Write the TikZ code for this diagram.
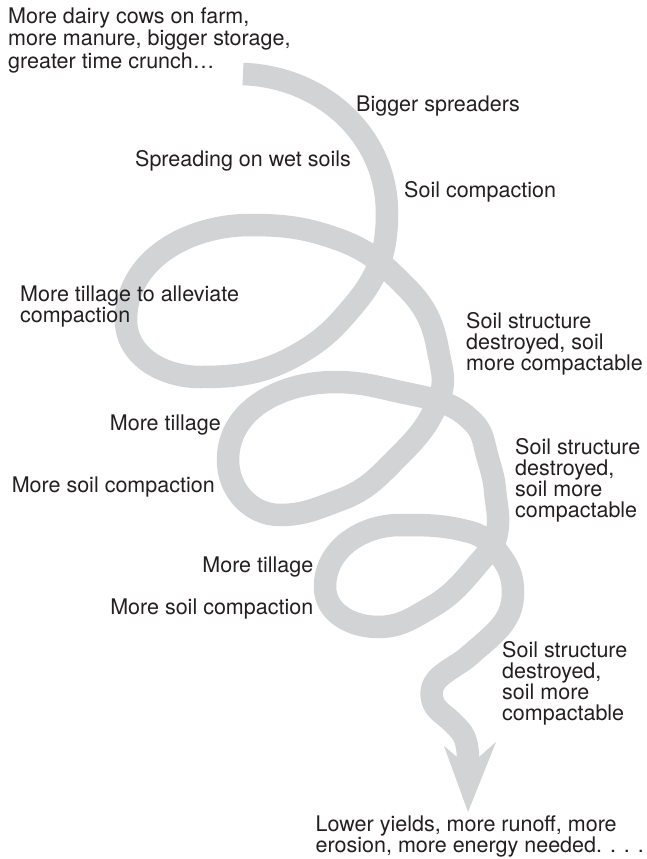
\documentclass[tikz,border=0pt]{standalone}
\usepackage{fontspec}
\setmainfont{TeX Gyre Heros}
\definecolor{bandgray}{RGB}{209,211,212}
\definecolor{ink}{RGB}{35,31,32}
\begin{document}
\begin{tikzpicture}[x=1pt,y=1pt,
  spiral/.style={line width=22.5pt, draw=bandgray, line cap=butt, line join=round},
  tip/.style={fill=bandgray, draw=none},
  lbl/.style={inner sep=0pt, align=left, text=ink, font=\fontsize{21.5}{21}\selectfont},
]
\useasboundingbox (0,0) rectangle (646,-859);

% spiral band
\coordinate (s0) at (243,-74);
\coordinate (s1) at (468,-764);
\draw[spiral] (s0)
  to[out=-2,in=90] (387,-213)
  to[out=-90,in=50] (354,-305)
  to[out=-130,in=30] (300,-353)
  to[out=-150,in=0] (200,-377)
  to[out=180,in=-90] (126,-320)
  to[out=90,in=180] (250,-225)
  to[out=0,in=160] (340,-240)
  to[out=-20,in=135] (406,-287)
  to[out=-45,in=100] (438,-350)
  to[out=-80,in=70] (440,-396)
  to[out=-110,in=45] (400,-455)
  to[out=-135,in=20] (340,-500)
  to[out=-160,in=0] (280,-515)
  to[out=180,in=-90] (228,-460)
  to[out=90,in=180] (335,-382)
  to[out=0,in=168] (405,-393)
  to[out=-12,in=135] (473,-422)
  to[out=-45,in=105] (487,-455)
  to[out=-75,in=95] (495,-490)
  to[out=-85,in=80] (497,-533)
  to[out=-100,in=50] (477,-565)
  to[out=-130,in=30] (430,-608)
  to[out=-150,in=0] (378,-627)
  to[out=180,in=-90] (325,-587)
  to[out=90,in=180] (400,-525)
  to[out=0,in=165] (470,-532)
  to[out=-15,in=125] (502,-558)
  to[out=-55,in=90] (513,-593)
  to[out=-90,in=42] (470,-655)
  to[out=-138,in=100] (432,-698)
  to[out=-80,in=135] (452,-722)
  to[out=-45,in=105] (466,-742)
  to[out=-75,in=90] (s1);
\fill[tip] (457,-757) -- (444,-746) -- (468,-812) -- (496,-742) -- (479,-757) -- cycle;

% labels (anchor at the baseline of the last line)
\node[lbl, anchor=base west, font=\fontsize{21.5}{22}\selectfont] (top) at (8,-68)
  {More dairy cows on farm,\\more manure, bigger storage,\\greater time crunch…};
\node[lbl, anchor=base west] (spread) at (356,-111) {Bigger spreaders};
\node[lbl, anchor=base west] (wet) at (135,-166) {Spreading on wet soils};
\node[lbl, anchor=base west] (comp) at (404,-197) {Soil compaction};
\node[lbl, anchor=base west] (till1) at (20,-322) {More tillage to alleviate\\compaction};
\node[lbl, anchor=base west] (struct1) at (466,-370) {Soil structure\\destroyed, soil\\more compactable};
\node[lbl, anchor=base east] (till2) at (221,-430) {More tillage};
\node[lbl, anchor=base east] (comp2) at (215,-492) {More soil compaction};
\node[lbl, anchor=base west] (struct2) at (515,-517) {Soil structure\\destroyed,\\soil more\\compactable};
\node[lbl, anchor=base east] (till3) at (313.5,-572) {More tillage};
\node[lbl, anchor=base east] (comp3) at (313.5,-614) {More soil compaction};
\node[lbl, anchor=base west] (struct3) at (502,-720) {Soil structure\\destroyed,\\soil more\\compactable};
\node[lbl, anchor=base west] (result) at (315.5,-852.5) {Lower yields, more runoff, more\\erosion, more energy needed. . . .};
\end{tikzpicture}
\end{document}
